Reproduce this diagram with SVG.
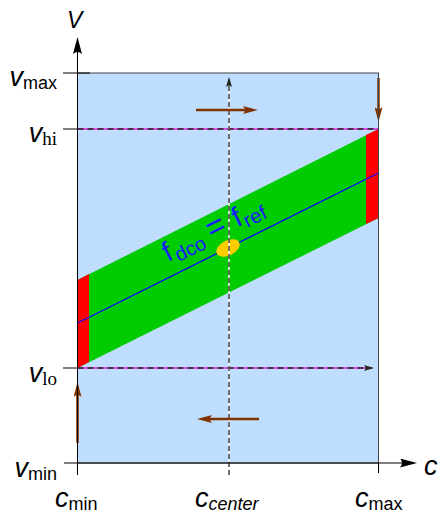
<svg xmlns="http://www.w3.org/2000/svg" width="440" height="513" viewBox="0 0 440 513">
<style>
.lab{font-family:"Liberation Sans",Arial,sans-serif;fill:#000}
.it{font-style:italic;font-size:27px}
.sub{font-size:18px}
.ser{font-family:"Liberation Serif","Times New Roman",serif;font-size:19px}
.brown{stroke:#803300;stroke-width:2.5;fill:none}
.axis{stroke:#000;stroke-width:1;fill:none}
.dashk{stroke:#222;stroke-width:1.3;stroke-dasharray:6 4;fill:none}
.dashm{stroke:#e020e0;stroke-width:1.3;fill:none}
</style>
<defs>
<marker id="ahB" viewBox="0 0 15 8" refX="9" refY="4" markerWidth="15" markerHeight="8" orient="auto" markerUnits="userSpaceOnUse">
<path d="M15,4 L0,0 Q4,4 0,8 Z" fill="#803300"/>
</marker>
<marker id="ahK" viewBox="0 0 17 9" refX="11" refY="4.5" markerWidth="17" markerHeight="9" orient="auto" markerUnits="userSpaceOnUse">
<path d="M17,4.5 L0,0 Q4,4.5 0,9 Z" fill="#000"/>
</marker>
<marker id="ahS" viewBox="0 0 10 6" refX="8" refY="3" markerWidth="10" markerHeight="6" orient="auto" markerUnits="userSpaceOnUse">
<path d="M10,3 L0,0 Q3,3 0,6 Z" fill="#222"/>
</marker>
</defs>

<g id="region">
<rect x="77.5" y="73" width="301" height="390" fill="#bfdeff"/>
<polygon points="77.5,280 378.5,129 378.5,218 77.5,368" fill="#00cc00"/>
<polygon points="77.5,280 89,274 89,362 77.5,368" fill="#ff0000"/>
<polygon points="366,135 378.5,129 378.5,218 366,224" fill="#ff0000"/>
<line x1="77.5" y1="323" x2="378.5" y2="173" stroke="#0000ff" stroke-width="1.3"/>
<ellipse cx="228" cy="248" rx="12.5" ry="7.5" fill="#ffcc00" transform="rotate(-26.6 228 248)"/>
<text class="lab" style="fill:#1a1aff" font-size="28" transform="rotate(-26.57 168 262)" x="168" y="262">f<tspan font-size="20" dx="2" dy="5">dco</tspan><tspan font-size="32" dx="7" dy="-5">=</tspan><tspan dx="10">f</tspan><tspan font-size="20" dx="1" dy="5">ref</tspan></text>
</g>

<g id="connectors">
<line class="dashm" x1="77.5" y1="129" x2="378" y2="129"/>
<line class="dashk" x1="77.5" y1="129" x2="378" y2="129"/>
<line class="dashm" x1="77.5" y1="368" x2="372" y2="368"/>
<line class="dashk" x1="77.5" y1="368" x2="372" y2="368" marker-end="url(#ahS)"/>
<line x1="229" y1="475" x2="229" y2="79" stroke="#fff" stroke-width="1.4"/>
<line x1="229" y1="475" x2="229" y2="79" stroke="#333" stroke-width="1.4" stroke-dasharray="5 3" marker-end="url(#ahS)"/>
<line class="brown" x1="196" y1="110" x2="252" y2="110" marker-end="url(#ahB)"/>
<line class="brown" x1="259" y1="419" x2="203" y2="419" marker-end="url(#ahB)"/>
<line class="brown" x1="378.5" y1="78" x2="378.5" y2="116" marker-end="url(#ahB)"/>
<line class="brown" x1="77.5" y1="443" x2="77.5" y2="388" marker-end="url(#ahB)"/>
<rect x="77.5" y="73" width="301" height="390" fill="none" stroke="#444" stroke-width="1"/>
<line class="axis" x1="77.5" y1="475" x2="77.5" y2="43" marker-end="url(#ahK)"/>
<line class="axis" x1="64" y1="463" x2="411" y2="463" marker-end="url(#ahK)"/>
<line class="axis" x1="63" y1="73" x2="90" y2="73"/>
<line class="axis" x1="63" y1="129" x2="77.5" y2="129"/>
<line class="axis" x1="63" y1="368" x2="77.5" y2="368"/>
<line class="axis" x1="378.5" y1="463" x2="378.5" y2="473"/>
</g>

<g id="labels">
<text class="lab it" x="67" y="28" style="font-size:23px">V</text>
<text class="lab it" x="424" y="475">c</text>
<text class="lab" x="57" y="86" text-anchor="end"><tspan class="it">v</tspan><tspan class="sub" dy="3">max</tspan></text>
<text class="lab" x="57" y="142" text-anchor="end"><tspan class="it">v</tspan><tspan class="ser" dy="3">hi</tspan></text>
<text class="lab" x="57" y="382" text-anchor="end"><tspan class="it">v</tspan><tspan class="ser" dy="3">lo</tspan></text>
<text class="lab" x="57" y="477" text-anchor="end"><tspan class="it">v</tspan><tspan class="sub" dy="3">min</tspan></text>
<text class="lab" x="55" y="507"><tspan class="it">c</tspan><tspan class="sub" dy="3">min</tspan></text>
<text class="lab" x="195" y="507"><tspan class="it">c</tspan><tspan class="sub" style="font-style:italic" dy="3">center</tspan></text>
<text class="lab" x="355" y="507"><tspan class="it">c</tspan><tspan class="sub" dy="3">max</tspan></text>
</g>
</svg>
